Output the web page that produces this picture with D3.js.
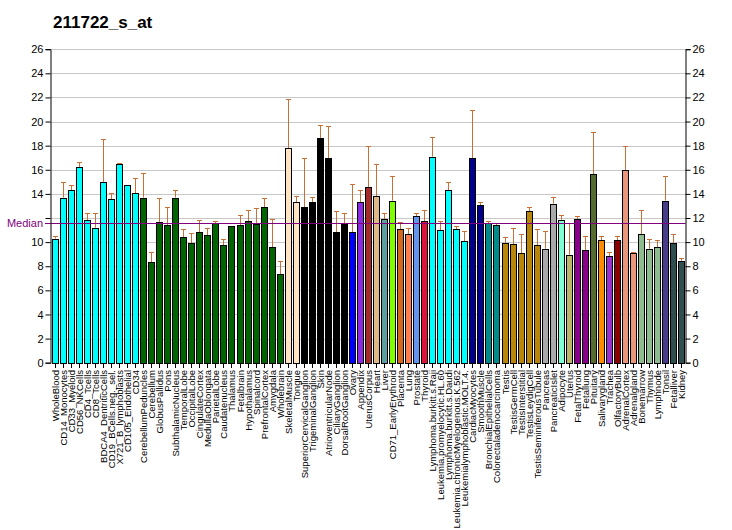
<!DOCTYPE html>
<html><head><meta charset="utf-8">
<script src="https://cdn.jsdelivr.net/npm/d3@7"></script>
<style>body{margin:0;background:#fff}svg{display:block}text{font-family:"Liberation Sans",Arial,sans-serif}</style>
</head><body>
<script>
const title = "211722_s_at";
const categories = ["WholeBlood","CD14_Monocytes","CD33_Myeloid","CD56_NKCells","CD4_Tcells","CD8_Tcells","BDCA4_DentriticCells","CD19_BCells.neg._sel.","X721_B_lymphoblasts","CD105_Endothelial","CD34","CerebellumPeduncles","Cerebellum","GlobusPallidus","Pons","SubthalamicNucleus","TemporalLobe","OccipitalLobe","CingulateCortex","MedullaOblongata","ParietalLobe","Caudatenucleus","Thalamus","Fetalbrain","Hypothalamus","Spinalcord","PrefrontalCortex","Amygdala","Wholebrain","SkeletalMuscle","Tongue","SuperiorCervicalGanglion","TrigeminalGanglion","Skin","AtrioventricularNode","CiliaryGanglion","DorsalRootGanglion","Ovary","Appendix","UterusCorpus","Heart","Liver","CD71_EarlyErythroid","Placenta","Lung","Prostate","Thyroid","Lymphoma.burkitt.s.Raji","Leukemia.promyelocytic.HL.60","Lymphoma.burkitt.s.Daudi","Leukemia.chronicMyelogenous.K.562","Leukemialymphoblastic.MOLT.4.","CardiacMyocytes","SmoothMuscle","BronchialEpithelialCells","Colorectaladenocarcinoma","Testis","TestisGermCell","TestisInterstitial","TestisLeydigCell","TestisSeminiferousTubule","Pancreas","PancreaticIslet","Adipocyte","Uterus","FetalThyroid","Fetallung","Pituitary","Salivarygland","Trachea","OlfactoryBulb","AdrenalCortex","Adrenalgland","Bonemarrow","Thymus","Lymphnode","Tonsil","Fetalliver","Kidney"];
const values = [10.3,13.7,14.3,16.2,11.8,11.2,15.0,13.55,16.45,14.7,14.05,13.7,8.35,11.65,11.4,13.7,10.4,9.9,10.8,10.55,11.57,9.75,11.31,11.4,11.72,11.48,12.9,9.57,7.35,17.8,13.3,12.9,13.3,18.6,16.95,10.8,11.47,10.8,13.3,14.55,13.8,11.9,13.45,11.05,10.65,12.15,11.72,17.1,11.0,14.3,11.05,10.1,16.95,13.05,11.56,11.4,9.95,9.85,9.1,12.55,9.75,9.45,13.2,11.85,8.95,11.92,9.35,15.65,10.15,8.85,10.15,15.95,9.1,10.65,9.45,9.6,13.45,9.95,8.45];
const errTops = [10.53,14.96,14.71,16.62,12.39,12.39,18.52,14.04,16.53,14.75,15.29,15.7,9.15,13.63,12.88,14.29,11.06,10.73,11.8,11.14,11.78,10.23,11.31,12.22,12.63,12.8,13.63,11.89,8.4,21.84,13.8,16.95,13.71,19.68,19.6,12.55,12.39,14.79,14.29,17.94,16.45,12.39,15.45,11.64,11.14,12.39,12.63,18.69,11.72,14.96,11.36,10.89,20.93,13.3,11.72,11.61,10.4,11.14,10.7,12.88,11.06,10.89,13.77,12.27,11.6,12.19,10.53,19.16,10.53,9.21,10.53,18.0,9.21,12.63,10.23,10.15,15.45,10.64,8.65];
const colors = ["cyan","cyan","cyan","cyan","cyan","cyan","cyan","cyan","cyan","cyan","cyan",
 "darkgreen","darkgreen","darkgreen","darkgreen","darkgreen","darkgreen","darkgreen","darkgreen","darkgreen","darkgreen","darkgreen","darkgreen","darkgreen","darkgreen","darkgreen","darkgreen","darkgreen","darkgreen",
 "bisque","bisque","black","black","black","black","black","black",
 "blue","blueviolet","brown","burlywood","cadetblue","chartreuse","chocolate","coral","cornflowerblue","crimson",
 "cyan","cyan","cyan","cyan","cyan","darkblue","darkblue","darkcyan","darkcyan",
 "darkgoldenrod","darkgoldenrod","darkgoldenrod","darkgoldenrod","darkgoldenrod","darkgray","darkgray",
 "aquamarine","darkkhaki","darkmagenta","darkmagenta","darkolivegreen","darkorange","darkorchid","darkred",
 "darksalmon","darksalmon","darkseagreen","darkseagreen","darkseagreen","darkslateblue","darkslategray","darkslategray"];
const yTicks = [0,2,4,6,8,10,12,14,16,18,20,22,24,26];
const median = 11.57;

const W = 732, H = 530;
const svg = d3.select("body").append("svg").attr("width", W).attr("height", H);
const x = d3.scaleBand().domain(d3.range(categories.length)).range([50.5, 685.5]).paddingInner(0.253).paddingOuter(0.167);
const y = d3.scaleLinear().domain([0, 26]).range([362.7, 49.2]);

svg.append("text").attr("x", 53).attr("y", 28).attr("font-size", 17).attr("font-weight", "bold").text(title);

// grid
svg.append("g").selectAll("line").data(yTicks.filter(d => d > 0)).join("line")
  .attr("x1", 50.5).attr("x2", 685.5).attr("y1", d => Math.round(y(d)) + 0.5).attr("y2", d => Math.round(y(d)) + 0.5)
  .attr("stroke", "#c8c8c8").attr("stroke-width", 1);

const data = categories.map((c, i) => ({c, v: values[i], e: errTops[i], col: colors[i], i}));

// error bars
const eg = svg.append("g").attr("stroke", "#c87137").attr("stroke-width", 1);
data.forEach(d => {
  const cx = Math.round(x(d.i) + x.bandwidth() / 2) + 0.5;
  if (d.e > d.v) {
    eg.append("line").attr("x1", cx).attr("x2", cx).attr("y1", y(d.v)).attr("y2", Math.round(y(d.e)) + 0.5);
    eg.append("line").attr("x1", cx - 2.5).attr("x2", cx + 2.5).attr("y1", Math.round(y(d.e)) + 0.5).attr("y2", Math.round(y(d.e)) + 0.5);
  }
});

// bars
svg.append("g").selectAll("rect").data(data).join("rect")
  .attr("x", d => Math.round(x(d.i)) + 0.5).attr("width", Math.round(x.bandwidth()))
  .attr("y", d => Math.round(y(d.v)) + 0.5).attr("height", d => Math.round(y(0)) - Math.round(y(d.v)))
  .attr("fill", d => d.col).attr("stroke", "#000").attr("stroke-width", 1);

// median
svg.append("line").attr("x1", 45).attr("x2", 685.5).attr("y1", Math.round(y(median)) + 0.5).attr("y2", Math.round(y(median)) + 0.5)
  .attr("stroke", "purple").attr("stroke-width", 1);
svg.append("text").attr("x", 43).attr("y", y(median)).attr("dy", "0.35em").attr("text-anchor", "end")
  .attr("font-size", 11).attr("fill", "purple").text("Median");

// axes (left "12" label is covered by the Median label in the reference)
const yl = d3.axisLeft(y).tickValues(yTicks).tickSize(5).tickPadding(2).tickFormat(d => d === 12 ? "" : d);
const yr = d3.axisRight(y).tickValues(yTicks).tickSize(5).tickPadding(2);
const gl = svg.append("g").attr("transform", "translate(50.5,0)").call(yl);
const gr = svg.append("g").attr("transform", "translate(685.5,0)").call(yr);
[gl, gr].forEach(g => { g.selectAll("text").attr("font-size", 11).attr("fill", "#000").style("font-family", '"Liberation Sans",Arial,sans-serif'); g.select(".domain").attr("stroke", "#000"); g.selectAll(".tick line").attr("stroke", "#000"); });

// x ticks and labels
const xg = svg.append("g");
data.forEach(d => {
  const cx = Math.round(x(d.i) + x.bandwidth() / 2) + 0.5;
  xg.append("line").attr("x1", cx).attr("x2", cx).attr("y1", 363).attr("y2", 368).attr("stroke", "#000");
  xg.append("text").attr("transform", `translate(${cx},370) rotate(-90)`).attr("dy", "0.35em")
    .attr("text-anchor", "end").attr("font-size", 9.5).text(d.c);
});
</script>
</body></html>
